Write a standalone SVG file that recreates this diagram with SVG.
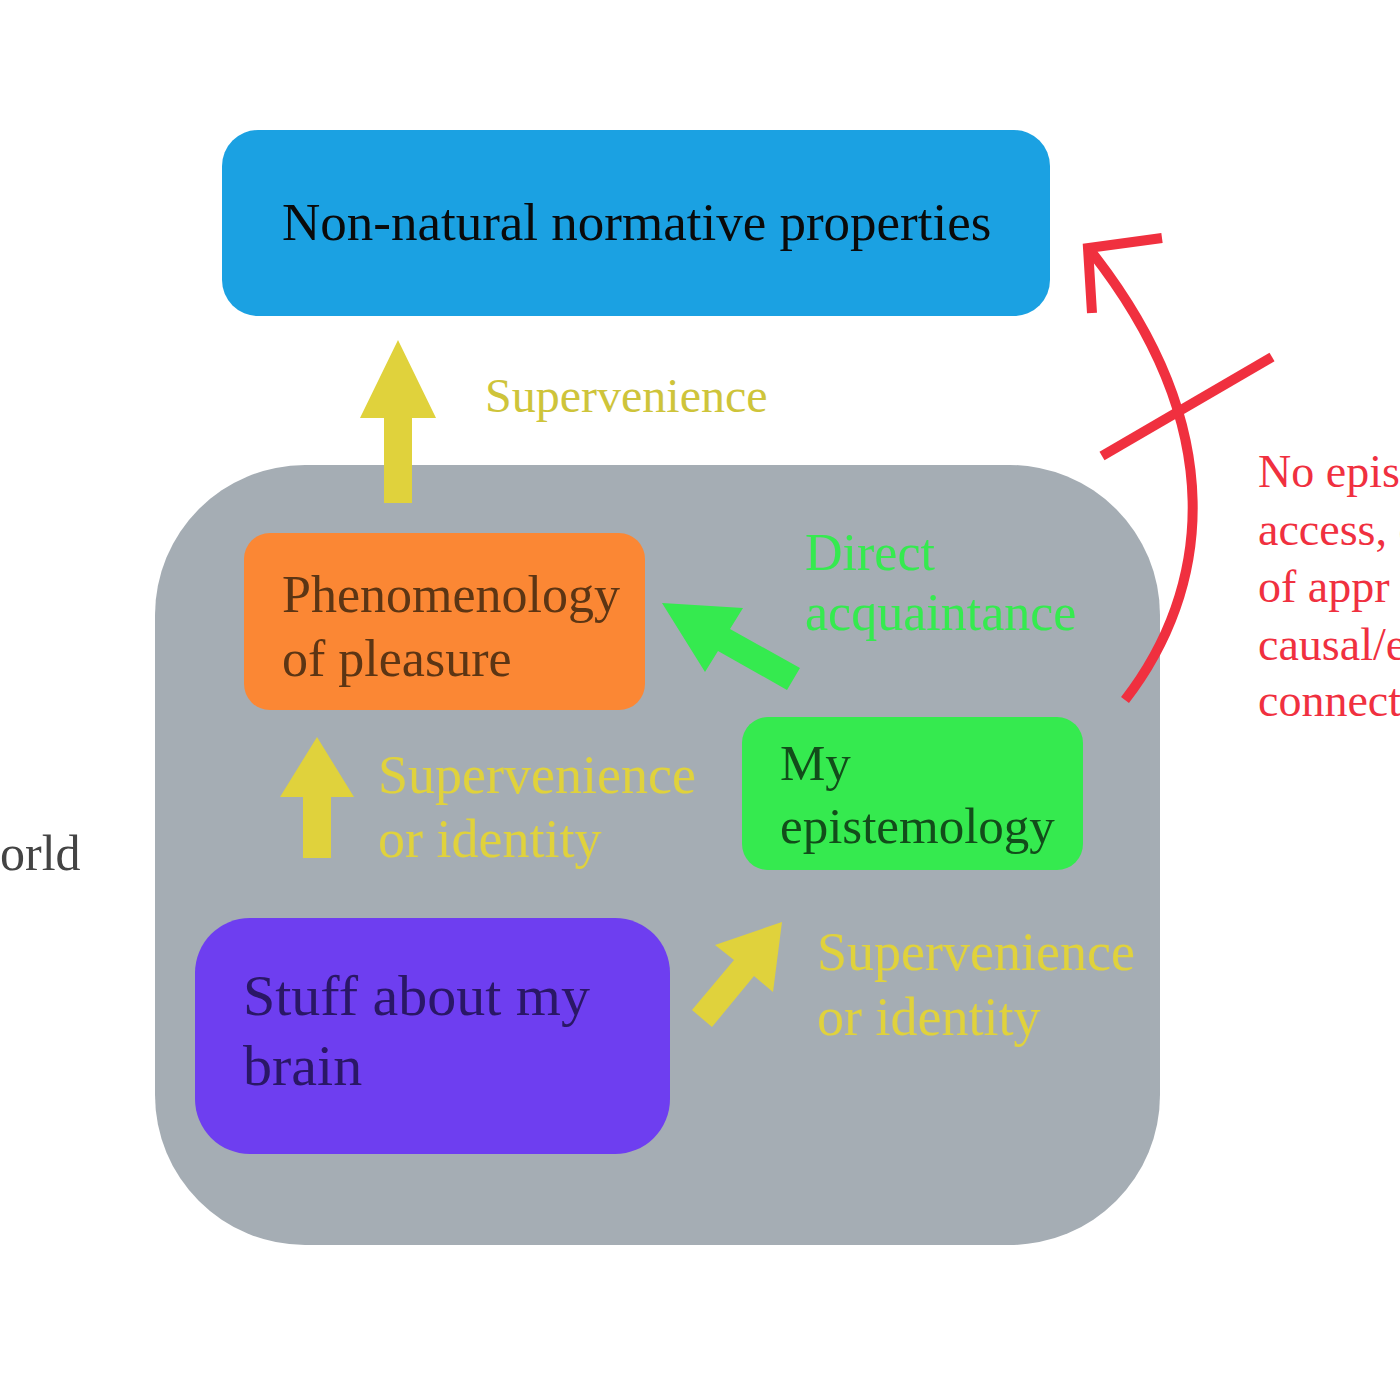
<svg xmlns="http://www.w3.org/2000/svg" width="1400" height="1400" viewBox="0 0 1400 1400">
<style>
text { font-family: "Liberation Serif", "DejaVu Serif", serif; }
.yl { fill: #E0D23C; }
.red { fill: none; stroke: #F0303F; stroke-width: 10; stroke-linecap: butt; }
</style>
<rect width="1400" height="1400" fill="#FFFFFF"/>
<g id="world-label"><text x="0" y="870" font-size="50" fill="#444444">orld</text></g>
<g id="world"><rect x="155" y="465" width="1005" height="780" rx="150" ry="150" fill="#A5ADB4"/></g>
<g id="nonnatural">
<rect x="222" y="130" width="828" height="186" rx="36" fill="#1BA1E2"/>
<text x="282" y="240" font-size="53" fill="#0A0A0A">Non-natural normative properties</text>
</g>
<g id="phenomenology">
<rect x="244" y="533" width="401" height="177" rx="26" fill="#FB8734"/>
<text font-size="52" fill="#5C3514"><tspan x="282" y="612">Phenomenology</tspan><tspan x="282" y="676">of pleasure</tspan></text>
</g>
<g id="epistemology">
<rect x="742" y="717" width="341" height="153" rx="26" fill="#35EA4F"/>
<text font-size="51" fill="#124D1A"><tspan x="780" y="780">My</tspan><tspan x="780" y="843">epistemology</tspan></text>
</g>
<g id="brain">
<rect x="195" y="918" width="475" height="236" rx="55" fill="#6E3EF0"/>
<text font-size="58" fill="#2A1766"><tspan x="243" y="1015">Stuff about my</tspan><tspan x="243" y="1085">brain</tspan></text>
</g>
<g id="connectors">
<polygon class="yl" points="398,340 436,418 412,418 412,503 384,503 384,418 360,418"/>
<polygon class="yl" points="317,737 354,797 331,797 331,858 303,858 303,797 280,797"/>
<polygon class="yl" points="782,922 773,992 754,976 712,1027 692,1010 734,960 715,945"/>
<polygon fill="#35EA4F" points="662,603 743,608 730,629 800,668 787,690 718,651 705,672"/>
<path class="red" d="M1125,700 C1210,590 1232,430 1090,250"/>
<path class="red" d="M1162,238 L1088,248 L1092,313"/>
<path class="red" d="M1102,456 L1272,357"/>
</g>
<g id="labels">
<text x="485" y="412" font-size="48" fill="#CEC43A">Supervenience</text>
<text font-size="54" class="yl"><tspan x="378" y="793">Supervenience</tspan><tspan x="378" y="857">or identity</tspan></text>
<text font-size="54" class="yl"><tspan x="817" y="970">Supervenience</tspan><tspan x="817" y="1035">or identity</tspan></text>
<text font-size="52" fill="#35EA4F"><tspan x="805" y="570">Direct</tspan><tspan x="805" y="630">acquaintance</tspan></text>
<text font-size="46" fill="#F0303F"><tspan x="1258" y="487">No epis</tspan><tspan x="1258" y="545">access, c</tspan><tspan x="1258" y="602">of appr</tspan><tspan x="1258" y="660">causal/e</tspan><tspan x="1258" y="716">connect</tspan></text>
</g>
</svg>
